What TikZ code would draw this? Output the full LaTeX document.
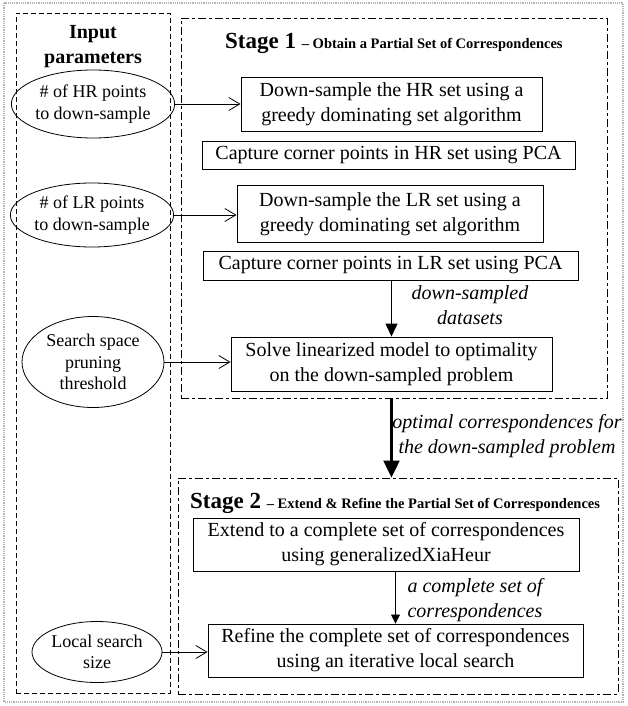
\documentclass[tikz,border=0pt]{standalone}
\usepackage{fontspec}
\setmainfont{Liberation Serif}
\usetikzlibrary{positioning,arrows.meta,shapes.geometric}
\definecolor{frame}{HTML}{B4B4B4}
\tikzset{
  box/.style     ={draw, line width=0.9pt, align=center, inner sep=2pt,
                   font=\fontsize{20}{25}\selectfont},
  param/.style   ={ellipse, draw, line width=0.8pt, align=center, inner sep=0pt,
                   font=\fontsize{18}{21.5}\selectfont},
  % stage frames: dash-dot border, input column: plain dashes
  stagebox/.style={draw, line width=0.9pt, dash pattern=on 8pt off 3pt on 3pt off 3pt},
  inbox/.style   ={draw, line width=0.9pt, dash pattern=on 5pt off 3pt},
  feed/.style    ={-{Straight Barb[length=11pt,width=13pt]}, line width=0.8pt},
  flow/.style    ={-{Triangle[length=13pt,width=12pt]}, line width=1.2pt},
  bigflow/.style ={-{Triangle[length=17pt,width=16pt]}, line width=2.2pt},
  thinflow/.style={-{Triangle[length=9pt,width=9pt]}, line width=0.8pt},
  note/.style    ={align=center, inner sep=0pt, font=\fontsize{20}{25}\selectfont\itshape},
  title/.style   ={anchor=west, inner sep=0pt, font=\bfseries},
}

\begin{document}
\begin{tikzpicture}[x=1pt,y=-1pt]
    \useasboundingbox (0,0) rectangle (627,706);
    \draw[frame, densely dotted, line width=1.2pt] (4,3) rectangle (623,702);
    % input parameters
    \node[inbox, minimum width=154pt, minimum height=680pt] (IN) at (93,353) {};
    \node[font=\fontsize{20}{25}\selectfont\bfseries, align=center] (INT) at (93,47) {Input\\parameters};
    \node[param, minimum width=137pt, minimum height=68pt] (E1) at (93,104) {\# of HR points\\to down-sample};
    \node[param, minimum width=141pt, minimum height=64pt] (E2) at (92,215) {\# of LR points\\to down-sample};
    \node[param, minimum width=142pt, minimum height=91pt] (E3) at (93,362) {Search space\\pruning\\threshold};
    \node[param, minimum width=130pt, minimum height=61pt] (E4) at (97,652) {Local search\\size};
    % stage 1
    \node[stagebox, minimum width=426pt, minimum height=380pt] (S1) at (394,208) {};
    \node[title] (T1) at (225,43) {\fontsize{23}{25}\selectfont Stage 1 \fontsize{14.5}{16}\selectfont -- Obtain a Partial Set of Correspondences};
    \node[box, minimum width=301pt, minimum height=54pt] (B1) at (391.5,104) {Down-sample the HR set using a\\greedy dominating set algorithm};
    \node[box, minimum width=373pt, minimum height=28pt] (B2) at (388.5,155) {Capture corner points in HR set using PCA};
    \node[box, minimum width=306pt, minimum height=57pt] (B3) at (390,214) {Down-sample the LR set using a\\greedy dominating set algorithm};
    \node[box, minimum width=375pt, minimum height=29pt] (B4) at (390.5,265.5) {Capture corner points in LR set using PCA};
    \node[box, minimum width=321pt, minimum height=54pt] (B5) at (391.5,364) {Solve linearized model to optimality\\on the down-sampled problem};
    \draw[flow] (B4.south -| B5) -- (B5.north);
    \node[note] (L1) at (470,305) {down-sampled\\datasets};
    % stage 2
    \node[stagebox, minimum width=440pt, minimum height=216pt] (S2) at (398,586) {};
    \node[title] (T2) at (190,503) {\fontsize{23}{25}\selectfont Stage 2 \fontsize{14.5}{16}\selectfont -- Extend \& Refine the Partial Set of Correspondences};
    \node[box, minimum width=386pt, minimum height=53pt] (B6) at (386,544.5) {Extend to a complete set of correspondences\\using generalizedXiaHeur};
    \node[box, minimum width=375pt, minimum height=53pt] (B7) at (395.5,650.5) {Refine the complete set of correspondences\\using an iterative local search};
    \draw[thinflow] (B6.south -| B7) -- (B7.north);
    \node[note] (L3) at (475,600) {a complete set of\\correspondences};
    % stage 1 -> stage 2
    \draw[bigflow] (S1.south -| B5) -- (S2.north -| B5);
    \node[note] (L2) at (507,436) {optimal correspondences for\\the down-sampled problem};
    % parameters feed the stages
    \draw[feed] (E1) -- (B1);
    \draw[feed] (E2.east) -- (E2.east -| B3.west);
    \draw[feed] (E3.east) -- (E3.east -| B5.west);
    \draw[feed] (E4.east) -- (E4.east -| B7.west);
\end{tikzpicture}
\end{document}
